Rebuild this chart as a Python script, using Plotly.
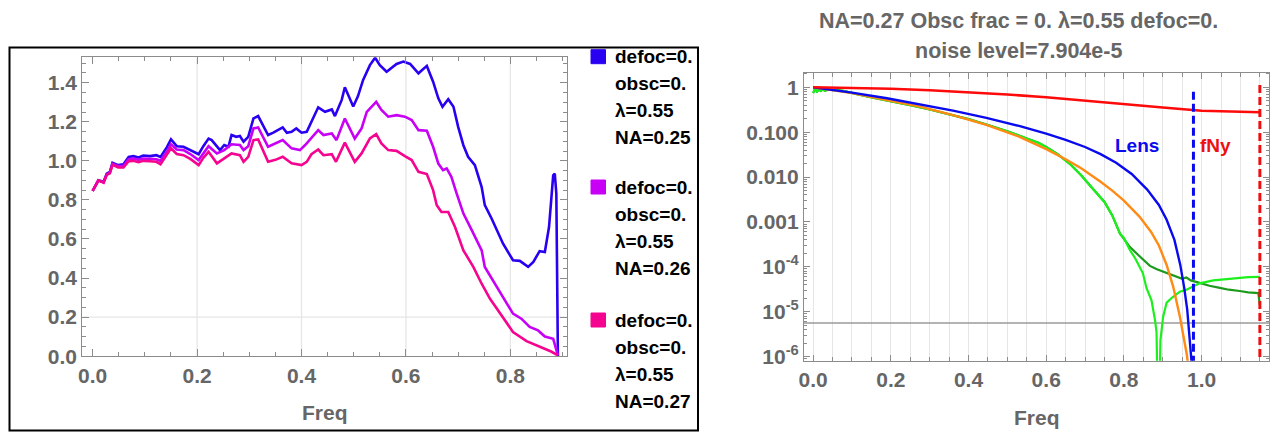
import plotly.graph_objects as go

# ---------------- data: left panel (three MTF ratio curves) ----------------
freq_na025 = [0.0, 0.011, 0.021, 0.027, 0.033, 0.038, 0.049, 0.059, 0.069, 0.078, 0.088, 0.097, 0.110, 0.122,
              0.130, 0.142, 0.150, 0.161, 0.174, 0.187, 0.203, 0.212, 0.222, 0.228, 0.238, 0.244, 0.252, 0.260,
              0.266, 0.275, 0.282, 0.289, 0.298, 0.308, 0.317, 0.327, 0.336, 0.346, 0.356, 0.364, 0.372, 0.381,
              0.390, 0.400, 0.410, 0.419, 0.432, 0.445, 0.458, 0.464, 0.477, 0.483, 0.499, 0.508, 0.518, 0.531,
              0.541, 0.550, 0.563, 0.582, 0.595, 0.608, 0.624, 0.640, 0.652, 0.662, 0.670, 0.681, 0.691, 0.700,
              0.710, 0.719, 0.732, 0.745, 0.751, 0.764, 0.786, 0.805, 0.818, 0.834, 0.844, 0.856, 0.866, 0.874,
              0.882, 0.885, 0.888, 0.891]
ratio_na025 = [0.846, 0.90, 0.893, 0.935, 0.944, 0.99, 0.978, 0.983, 1.02, 1.024, 1.017, 1.027, 1.024, 1.029,
               1.02, 1.069, 1.11, 1.075, 1.072, 1.055, 1.034, 1.075, 1.114, 1.106, 1.072, 1.055, 1.081, 1.072,
               1.132, 1.123, 1.127, 1.098, 1.123, 1.217, 1.229, 1.174, 1.132, 1.144, 1.157, 1.171, 1.144, 1.149,
               1.166, 1.144, 1.149, 1.200, 1.274, 1.251, 1.263, 1.229, 1.312, 1.377, 1.278, 1.330, 1.414, 1.49,
               1.528, 1.49, 1.456, 1.496, 1.508, 1.496, 1.448, 1.486, 1.405, 1.320, 1.277, 1.315, 1.277, 1.174,
               1.080, 1.021, 0.978, 0.866, 0.773, 0.705, 0.576, 0.491, 0.488, 0.457, 0.483, 0.538, 0.533, 0.661,
               0.926, 0.935, 0.833, 0.0]

freq_na026 = [0.0, 0.011, 0.021, 0.027, 0.033, 0.038, 0.049, 0.059, 0.069, 0.078, 0.088, 0.097, 0.110, 0.122,
              0.130, 0.142, 0.150, 0.161, 0.174, 0.187, 0.203, 0.212, 0.222, 0.238, 0.252, 0.266, 0.282, 0.289,
              0.298, 0.308, 0.317, 0.336, 0.350, 0.364, 0.381, 0.397, 0.407, 0.416, 0.432, 0.442, 0.458, 0.467,
              0.483, 0.502, 0.515, 0.525, 0.543, 0.553, 0.566, 0.582, 0.598, 0.611, 0.624, 0.640, 0.652, 0.662,
              0.671, 0.678, 0.687, 0.697, 0.710, 0.726, 0.735, 0.745, 0.751, 0.767, 0.786, 0.805, 0.821, 0.837,
              0.853, 0.866, 0.882, 0.891]
ratio_na026 = [0.846, 0.90, 0.89, 0.93, 0.94, 0.985, 0.973, 0.975, 1.008, 1.012, 1.005, 1.012, 1.010, 1.008,
               1.0, 1.045, 1.085, 1.058, 1.055, 1.035, 1.004, 1.04, 1.075, 1.038, 1.055, 1.085, 1.081, 1.055,
               1.075, 1.166, 1.171, 1.072, 1.09, 1.106, 1.064, 1.055, 1.081, 1.110, 1.157, 1.132, 1.140, 1.106,
               1.217, 1.114, 1.166, 1.251, 1.302, 1.260, 1.226, 1.234, 1.226, 1.209, 1.157, 1.154, 1.072, 0.986,
               0.952, 0.961, 0.918, 0.833, 0.730, 0.645, 0.593, 0.542, 0.457, 0.388, 0.303, 0.218, 0.192, 0.150,
               0.132, 0.101, 0.089, 0.004]

freq_na027 = [0.0, 0.011, 0.021, 0.027, 0.033, 0.038, 0.049, 0.059, 0.069, 0.078, 0.088, 0.097, 0.110, 0.122,
              0.130, 0.142, 0.150, 0.161, 0.174, 0.187, 0.203, 0.212, 0.222, 0.238, 0.252, 0.266, 0.282, 0.289,
              0.298, 0.308, 0.317, 0.336, 0.350, 0.364, 0.381, 0.400, 0.410, 0.419, 0.432, 0.442, 0.458, 0.466,
              0.483, 0.502, 0.515, 0.531, 0.543, 0.553, 0.566, 0.582, 0.598, 0.611, 0.624, 0.640, 0.652, 0.659,
              0.668, 0.681, 0.694, 0.710, 0.729, 0.745, 0.761, 0.780, 0.805, 0.831, 0.856, 0.878, 0.891]
ratio_na027 = [0.846, 0.90, 0.888, 0.928, 0.936, 0.98, 0.966, 0.966, 0.998, 1.0, 0.993, 1.0, 0.998, 0.995,
               0.983, 1.03, 1.064, 1.035, 1.029, 1.01, 0.978, 1.015, 1.046, 0.987, 1.012, 1.038, 1.029, 0.995,
               1.02, 1.106, 1.110, 0.995, 1.005, 1.021, 0.987, 0.978, 0.995, 1.034, 1.058, 1.029, 1.034, 0.995,
               1.093, 0.995, 1.038, 1.115, 1.137, 1.089, 1.055, 1.051, 1.024, 1.004, 0.944, 0.932, 0.850, 0.773,
               0.738, 0.738, 0.661, 0.542, 0.457, 0.371, 0.294, 0.218, 0.124, 0.077, 0.047, 0.024, 0.004]

legend_defoc = ["defoc=0.", "defoc=0.", "defoc=0."]
legend_obsc = ["obsc=0.", "obsc=0.", "obsc=0."]
legend_lambda = ["λ=0.55", "λ=0.55", "λ=0.55"]
legend_na = ["NA=0.25", "NA=0.26", "NA=0.27"]
left_colors = ["#2a00f2", "#c800f5", "#f5048f"]

left_xticks = [0.0, 0.2, 0.4, 0.6, 0.8]
left_yticks = [0.0, 0.2, 0.4, 0.6, 0.8, 1.0, 1.2, 1.4]

# ---------------- data: right panel (log MTF) ----------------
pixel_freq = [0.0, 0.1, 0.2, 0.3, 0.4, 0.5, 0.6, 0.7, 0.8, 0.9, 1.0, 1.1, 1.15]
pixel_mtf = [1.0, 0.98, 0.93, 0.86, 0.78, 0.69, 0.60, 0.51, 0.43, 0.355, 0.30, 0.28, 0.277]

lens_freq = [0.0, 0.10, 0.19, 0.275, 0.36, 0.446, 0.53, 0.60, 0.65, 0.70, 0.74, 0.78, 0.82, 0.86, 0.89,
             0.91, 0.93, 0.945, 0.955, 0.963, 0.969, 0.974, 0.977]
lens_mtf = [1.0, 0.759, 0.569, 0.422, 0.302, 0.209, 0.138, 0.0933, 0.0676, 0.0468, 0.0324, 0.0209, 0.01175,
            0.00525, 0.0024, 0.00112, 3.98e-4, 1.12e-4, 3.55e-5, 1.12e-5, 3.16e-6, 7.9e-7, 2.5e-7]

total_freq = [0.0, 0.10, 0.19, 0.275, 0.36, 0.446, 0.53, 0.60, 0.65, 0.69, 0.74, 0.77, 0.80, 0.82, 0.84,
              0.87, 0.89, 0.91, 0.927, 0.944, 0.955, 0.962, 0.967]
total_mtf = [1.0, 0.74, 0.52, 0.37, 0.24, 0.145, 0.08, 0.042, 0.025, 0.0158, 0.0079, 0.0050, 0.0030, 0.00204,
             0.00132, 6.0e-4, 3.0e-4, 1.1e-4, 3.6e-5, 7.8e-6, 2.5e-6, 1.1e-6, 5e-7]

measured_freq = [0.0, 0.005, 0.01, 0.015, 0.02, 0.025, 0.03, 0.035, 0.04, 0.05, 0.06, 0.08, 0.10, 0.13, 0.16,
                 0.20, 0.25, 0.30, 0.35, 0.40, 0.45, 0.50, 0.55, 0.58, 0.60, 0.63, 0.66, 0.69, 0.72, 0.75,
                 0.77, 0.79]
measured_mtf = [0.75, 0.92, 0.80, 0.88, 0.83, 0.90, 0.84, 0.87, 0.90, 0.86, 0.88, 0.82, 0.74, 0.65, 0.57,
                0.49, 0.40, 0.32, 0.25, 0.195, 0.145, 0.105, 0.072, 0.058, 0.047, 0.032, 0.020, 0.011,
                0.0055, 0.0028, 0.0014, 5.5e-4]

raw_tail_freq = [0.80, 0.815, 0.841, 0.867, 0.885, 0.901, 0.918, 0.935, 0.950, 0.961, 0.972, 0.995, 1.02,
                 1.047, 1.07, 1.098, 1.12, 1.146, 1.15]
raw_tail_mtf = [4.2e-4, 2.8e-4, 1.7e-4, 1.05e-4, 8.8e-5, 7.8e-5, 6.6e-5, 6.0e-5, 5.4e-5, 5.8e-5, 5.0e-5,
                4.4e-5, 3.8e-5, 3.4e-5, 3.1e-5, 2.9e-5, 2.7e-5, 2.6e-5, 1.4e-5]

corr_tail_freq = [0.80, 0.815, 0.83, 0.849, 0.858, 0.871, 0.880, 0.884, 0.889, 0.894, 0.901, 0.910, 0.925,
                  0.944, 0.961, 0.978, 0.995, 1.03, 1.081, 1.12, 1.15]
corr_tail_mtf = [4.4e-4, 2.4e-4, 1.5e-4, 7.2e-5, 3.4e-5, 1.8e-5, 6.6e-6, 3.5e-6, 1e-8, 2.3e-6, 7.8e-6, 1.6e-5,
                 2.1e-5, 2.8e-5, 3.1e-5, 3.6e-5, 4.3e-5, 5.0e-5, 5.6e-5, 5.9e-5, 6.0e-5]

noise_floor = 5.6e-6
lens_cutoff = 0.979
nyquist = 1.15
dash_bottom = 1e-8
lens_dash_top = 0.8
nyq_dash_top = 1.12

right_xticks = [0.0, 0.2, 0.4, 0.6, 0.8, 1.0]
right_yticks = [1e-6, 1e-5, 1e-4, 1e-3, 1e-2, 1e-1, 1]
right_ytext = ["10<sup>-6</sup>", "10<sup>-5</sup>", "10<sup>-4</sup>", "0.001", "0.010", "0.100", "1"]
right_ygrid_log = [-1.19, -1.66, -2.0, -2.47, -3.11, -3.77, -4.37, -5.63]

# ---------------- layout helpers ----------------
W, H = 1276, 432
def fx(p):
    return p / W
def fy(p):
    return 1 - p / H

FONT = "Liberation Sans"
GRAY_TXT = "#666666"
AX = "#8c8c8c"
GRID = "#e6e6e6"

left_xrange = [-0.0198, 0.909]
left_yrange = [0.0, 1.53]
right_xrange = [-0.0235, 1.1735]
right_yrange = [-6.09, 0.325]

fig = go.Figure()

for fx_, fy_, c, nm in zip([freq_na025, freq_na026, freq_na027],
                           [ratio_na025, ratio_na026, ratio_na027], left_colors, legend_na):
    fig.add_trace(go.Scatter(x=fx_, y=fy_, mode="lines", line=dict(color=c, width=2.6),
                             name=nm, xaxis="x", yaxis="y", showlegend=False))

# right panel
fig.add_trace(go.Scatter(x=right_xrange, y=[noise_floor, noise_floor], mode="lines",
                         line=dict(color="#9a9a9a", width=1.6), xaxis="x2", yaxis="y2", showlegend=False))
fig.add_trace(go.Scatter(x=measured_freq + raw_tail_freq, y=measured_mtf + raw_tail_mtf, mode="lines",
                         line=dict(color="#1c9a1c", width=2.2), xaxis="x2", yaxis="y2", showlegend=False))
fig.add_trace(go.Scatter(x=measured_freq + corr_tail_freq, y=measured_mtf + corr_tail_mtf, mode="lines",
                         line=dict(color="#1cf01c", width=2.2), xaxis="x2", yaxis="y2", showlegend=False))
fig.add_trace(go.Scatter(x=total_freq, y=total_mtf, mode="lines", line=dict(color="#ff8a14", width=2.4),
                         xaxis="x2", yaxis="y2", showlegend=False))
fig.add_trace(go.Scatter(x=lens_freq, y=lens_mtf, mode="lines", line=dict(color="#0a0aee", width=2.4),
                         xaxis="x2", yaxis="y2", showlegend=False))
fig.add_trace(go.Scatter(x=pixel_freq, y=pixel_mtf, mode="lines", line=dict(color="#ff0a0a", width=2.6),
                         xaxis="x2", yaxis="y2", showlegend=False))
fig.add_trace(go.Scatter(x=[lens_cutoff, lens_cutoff], y=[lens_dash_top, dash_bottom], mode="lines",
                         line=dict(color="#0a0aee", width=3, dash="8px,4px"), xaxis="x2", yaxis="y2",
                         showlegend=False))
fig.add_trace(go.Scatter(x=[nyquist, nyquist], y=[nyq_dash_top, dash_bottom], mode="lines",
                         line=dict(color="#ee1010", width=3, dash="8px,4px"), xaxis="x2", yaxis="y2",
                         showlegend=False))

tickfont = dict(family=FONT, size=21, color=GRAY_TXT, weight="bold")

fig.update_layout(
    template="none",
    width=W, height=H, margin=dict(l=0, r=0, t=0, b=0, pad=0, autoexpand=False),
    paper_bgcolor="white", plot_bgcolor="white", showlegend=False,
    xaxis=dict(domain=[fx(82.3), fx(567.3)], range=left_xrange, anchor="y", automargin=False,
               tickvals=left_xticks, ticktext=["%.1f" % v for v in left_xticks],
               ticks="inside", ticklen=7, tickwidth=1, tickcolor=AX, showgrid=False, zeroline=False,
               showline=True, linecolor=AX, linewidth=1.2, mirror="allticks", tickfont=tickfont,
               minor=dict(dtick=0.05, tick0=0, ticks="inside", ticklen=4, tickcolor=AX, showgrid=False)),
    yaxis=dict(domain=[fy(356.2), fy(57.3)], range=left_yrange, anchor="x", automargin=False,
               tickvals=left_yticks, ticktext=["%.1f" % v for v in left_yticks],
               ticks="inside", ticklen=7, tickwidth=1, tickcolor=AX, showgrid=False, zeroline=False,
               showline=True, linecolor=AX, linewidth=1.2, mirror="allticks", tickfont=tickfont,
               minor=dict(dtick=0.05, tick0=0, ticks="inside", ticklen=4, tickcolor=AX, showgrid=False)),
    xaxis2=dict(domain=[fx(804), fx(1269)], range=right_xrange, anchor="y2", automargin=False,
                tickvals=right_xticks, ticktext=["%.1f" % v for v in right_xticks],
                ticks="inside", ticklen=6, tickwidth=1, tickcolor=AX, showgrid=True, gridcolor=GRID,
                zeroline=False, showline=True, linecolor=AX, linewidth=1.2, mirror="allticks",
                tickfont=tickfont,
                minor=dict(dtick=0.05, tick0=0, ticks="inside", ticklen=4, tickcolor=AX, showgrid=True,
                           gridcolor=GRID)),
    yaxis2=dict(domain=[fy(360.7), fy(72.7)], type="log", range=right_yrange, anchor="x2", automargin=False,
                tickvals=right_yticks, ticktext=right_ytext,
                ticks="inside", ticklen=6, tickwidth=1, tickcolor=AX, showgrid=False, zeroline=False,
                showline=True, linecolor=AX, linewidth=1.2, mirror="allticks", tickfont=tickfont,
                minor=dict(tickmode="array",
                           tickvals=[k * 10 ** e for e in range(-7, 1) for k in range(2, 10)],
                           ticks="inside", ticklen=3, tickcolor=AX, showgrid=False)),
)

shapes = []
# left grid
for v in [0.2, 0.4, 0.6, 0.8]:
    shapes.append(dict(type="line", xref="x", yref="y domain", x0=v, x1=v, y0=0, y1=1,
                       line=dict(color=GRID, width=1.3), layer="below"))
shapes.append(dict(type="line", xref="x domain", yref="y", x0=0, x1=1, y0=0.2, y1=0.2,
                   line=dict(color=GRID, width=1.3), layer="below"))
# right horizontal grid (log units)
for v in right_ygrid_log:
    shapes.append(dict(type="line", xref="x2 domain", yref="y2", x0=0, x1=1, y0=v, y1=v,
                       line=dict(color="#ececec", width=1.2), layer="below"))
# left frame
shapes.append(dict(type="rect", xref="paper", yref="paper", x0=fx(9.5), x1=fx(698), y0=fy(430.5),
                   y1=fy(47.5), line=dict(color="black", width=2)))
# legend swatches
entry_centers = [56.7, 187.0, 320.0]
for c, yc in zip(left_colors, entry_centers):
    shapes.append(dict(type="rect", xref="paper", yref="paper", x0=fx(591), x1=fx(605.5),
                       y0=fy(yc + 7), y1=fy(yc - 7), fillcolor=c, line=dict(color=c, width=1)))

ann = []
for i, yc in enumerate(entry_centers):
    for j, t in enumerate([legend_defoc[i], legend_obsc[i], legend_lambda[i], legend_na[i]]):
        ann.append(dict(text=t, xref="paper", yref="paper", x=fx(612.5), y=fy(yc + 27.0 * j),
                        xanchor="left", yanchor="middle", showarrow=False,
                        font=dict(family=FONT, size=19, color="black", weight="bold")))

axis_title_font = dict(family=FONT, size=21, color=GRAY_TXT, weight="bold")
ann.append(dict(text="Freq", xref="paper", yref="paper", x=fx(325), y=fy(412), xanchor="center",
                yanchor="middle", showarrow=False, font=axis_title_font))
ann.append(dict(text="Freq", xref="paper", yref="paper", x=fx(1037), y=fy(417), xanchor="center",
                yanchor="middle", showarrow=False, font=axis_title_font))
ann.append(dict(text="NA=0.27 Obsc frac = 0. λ=0.55 defoc=0.", xref="paper", yref="paper", x=fx(1018),
                y=fy(21), xanchor="center", yanchor="middle", showarrow=False,
                font=dict(family=FONT, size=21.5, color=GRAY_TXT, weight="bold")))
ann.append(dict(text="noise level=7.904e-5", xref="paper", yref="paper", x=fx(1018),
                y=fy(51), xanchor="center", yanchor="middle", showarrow=False,
                font=dict(family=FONT, size=21.5, color=GRAY_TXT, weight="bold")))
ann.append(dict(text="Lens", xref="paper", yref="paper", x=fx(1136.7), y=fy(145), xanchor="center",
                yanchor="middle", showarrow=False,
                font=dict(family=FONT, size=19, color="#0a0aee", weight="bold")))
ann.append(dict(text="fNy", xref="paper", yref="paper", x=fx(1215), y=fy(145), xanchor="center",
                yanchor="middle", showarrow=False,
                font=dict(family=FONT, size=19, color="#ee1010", weight="bold")))

fig.update_layout(shapes=shapes, annotations=ann)
fig.write_html("out.html")
